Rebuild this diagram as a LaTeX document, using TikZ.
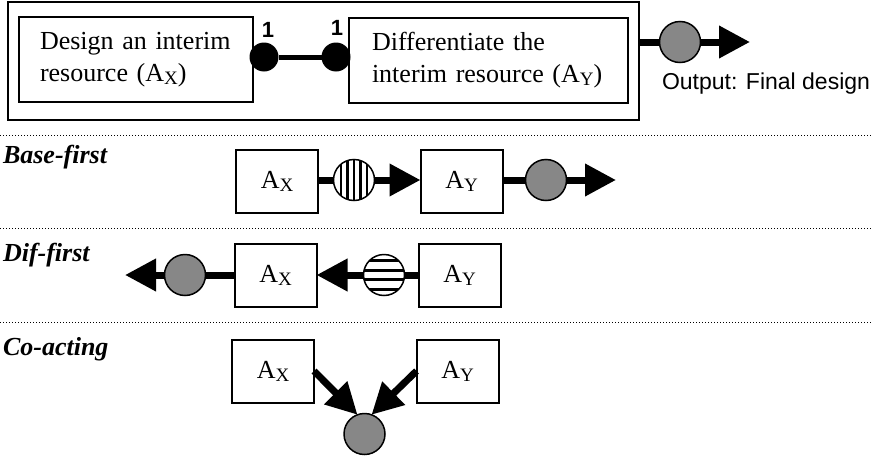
\documentclass[tikz,border=0pt]{standalone}
\usepackage{fontspec}
\setmainfont{Liberation Serif}
\newfontfamily\arialfont{Liberation Sans}
\usetikzlibrary{arrows.meta}
% lowered, smaller index letter after a capital
\newcommand\subidx[1]{\raisebox{-3pt}{\fontsize{19}{19}\selectfont #1}}

\begin{document}
\begin{tikzpicture}[x=1pt,y=-1pt,
  every node/.style={inner sep=0pt, outer sep=0pt},
  txt/.style={font=\fontsize{26}{32}\selectfont},
  actbox/.style={draw, line width=2pt, txt, align=left, minimum height=85pt},
  smallbox/.style={draw, line width=2pt, txt, minimum width=82pt, minimum height=63pt},
  lbl/.style={font=\fontsize{26}{30}\selectfont\bfseries\itshape, anchor=base west},
  onelabel/.style={font=\arialfont\bfseries\fontsize{22}{22}\selectfont, anchor=base},
  blackdot/.style={circle, fill=black, minimum size=29pt},
  greydot/.style={circle, draw, line width=1.5pt, fill=black!47, minimum size=41pt},
  vstripe/.style={circle, draw, line width=1.5pt, fill=white, minimum size=41pt,
    path picture={\foreach \d in {-13,-6.5,0,6.5,13}
      \draw[line width=2.2pt] ([xshift=\d pt]path picture bounding box.north)
        -- ([xshift=\d pt]path picture bounding box.south);}},
  hstripe/.style={circle, draw, line width=1.5pt, fill=white, minimum size=41pt,
    path picture={\foreach \d in {14.5,5,-4.5,-14}
      \draw[line width=3pt] ([yshift=\d pt]path picture bounding box.west)
        -- ([yshift=\d pt]path picture bounding box.east);}},
  conn/.style={line width=7pt},
  arr/.style={-{Triangle[length=31pt,width=31pt]}},
  sep/.style={dotted, line width=1pt}
]
\useasboundingbox (0,0) rectangle (873,458);

% ---- overall process frame ----
\node[draw, line width=2pt, minimum width=631pt, minimum height=118pt] (frame) at (323.5,61) {};
\node[actbox, text width=192pt, inner xsep=21pt] (dx) at (136,59.5)
  {Design an interim\\resource (A\subidx{X})};
\node[actbox, text width=233pt, inner xsep=23pt] (dy) at (488.5,60)
  {Differentiate the\\interim resource (A\subidx{Y})};
\node[blackdot] (d1) at (264,57) {};
\node[blackdot] (d2) at (336,57) {};
\draw[line width=5pt] (d1) -- (d2);
\node[onelabel] (n1) at (268,37) {1};
\node[onelabel] (n2) at (337,35) {1};

\node[greydot] (og) at (680,42) {};
\coordinate (ogtip) at (750,42);
\draw[conn] (frame.east |- og) -- (og);
\draw[conn,arr] (og) -- (ogtip);
\node[font=\arialfont\fontsize{23}{23}\selectfont, anchor=base west] (outlbl) at (662,89) {Output: Final design};

% ---- separators ----
\draw[sep] (0,135) -- (873,135);
\draw[sep] (0,228) -- (873,228);
\draw[sep] (0,322) -- (873,322);

% ---- Base-first ----
\node[lbl] (lb) at (3,163) {Base-first};
\node[smallbox] (bx) at (277,181.5) {A\subidx{X}};
\node[smallbox] (by) at (461.5,181.5) {A\subidx{Y}};
\node[vstripe] (bs) at (354,180) {};
\node[greydot] (bg) at (546,180) {};
\coordinate (btip) at (616,180);
\draw[conn] (bx.east |- bs) -- (bs);
\draw[conn,arr] (bs) -- (by.west |- bs);
\draw[conn] (by.east |- bg) -- (bg);
\draw[conn,arr] (bg) -- (btip);

% ---- Dif-first ----
\node[lbl] (lf) at (3,261) {Dif-first};
\node[smallbox] (fx) at (275.5,275) {A\subidx{X}};
\node[smallbox] (fy) at (459.5,275) {A\subidx{Y}};
\node[hstripe] (fs) at (384,275) {};
\node[greydot] (fg) at (185,275) {};
\coordinate (ftip) at (125,275);
\draw[conn] (fy.west |- fs) -- (fs);
\draw[conn,arr] (fs) -- (fx.east |- fs);
\draw[conn] (fx.west |- fg) -- (fg);
\draw[conn,arr] (fg) -- (ftip);

% ---- Co-acting ----
\node[lbl] (lc) at (3,355) {Co-acting};
\node[smallbox] (cx) at (273,371) {A\subidx{X}};
\node[smallbox] (cy) at (457.5,371) {A\subidx{Y}};
\node[greydot] (cg) at (364.5,434) {};
\draw[conn,arr] (cx.east) -- (cg.110);
\draw[conn,arr] (cy.west) -- (cg.70);
\end{tikzpicture}
\end{document}
